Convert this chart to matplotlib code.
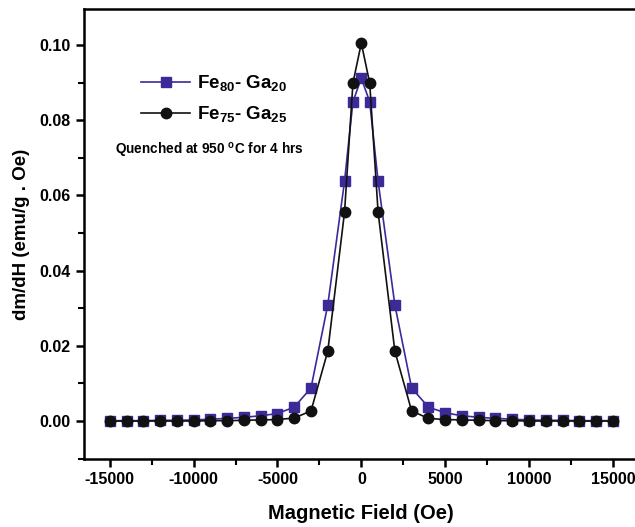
import matplotlib
matplotlib.use("Agg")
import matplotlib.pyplot as plt
from matplotlib.ticker import MultipleLocator, FuncFormatter

field = [-15000, -14000, -13000, -12000, -11000, -10000, -9000, -8000, -7000, -6000,
         -5000, -4000, -3000, -2000, -1000, -500, 0, 500, 1000, 2000, 3000, 4000,
         5000, 6000, 7000, 8000, 9000, 10000, 11000, 12000, 13000, 14000, 15000]
fe80 = [0.0001, 0.0001, 0.0001, 0.0002, 0.0002, 0.0003, 0.0005, 0.0007, 0.0010, 0.0014,
        0.0020, 0.0037, 0.0088, 0.0309, 0.0638, 0.0849, 0.0912, 0.0849, 0.0638, 0.0309,
        0.0088, 0.0037, 0.0022, 0.0014, 0.0010, 0.0007, 0.0005, 0.0003, 0.0002, 0.0002,
        0.0001, 0.0001, 0.0001]
fe75 = [0.0, 0.0, 0.0, 0.0, 0.0, 0.0, 0.0001, 0.0001, 0.0002, 0.0003,
        0.0004, 0.0008, 0.0027, 0.0186, 0.0556, 0.0899, 0.1005, 0.0899, 0.0556, 0.0186,
        0.0027, 0.0007, 0.0004, 0.0003, 0.0002, 0.0001, 0.0001, 0.0, 0.0, 0.0,
        0.0, 0.0, 0.0]
labels = ["Fe$_{80}$- Ga$_{20}$", "Fe$_{75}$- Ga$_{25}$"]
note = "Quenched at 950 $^{\\mathregular{o}}$C for 4 hrs"
xlabel = "Magnetic Field (Oe)"
ylabel = "dm/dH (emu/g . Oe)"

plt.rcParams['font.family'] = ['Liberation Sans', 'DejaVu Sans']
plt.rcParams['mathtext.fontset'] = 'custom'
plt.rcParams['mathtext.rm'] = 'Liberation Sans:bold'
plt.rcParams['mathtext.it'] = 'Liberation Sans:bold'
plt.rcParams['mathtext.bf'] = 'Liberation Sans:bold'
plt.rcParams['axes.unicode_minus'] = False

fig = plt.figure(figsize=(6.35, 5.27), dpi=100)
ax = fig.add_axes([0.132, 0.129, 0.874, 0.854])

ax.plot(field, fe80, color='#3b2a98', marker='s', markersize=6.5, lw=1.2, label=labels[0], zorder=2)
ax.plot(field, fe75, color='#111111', marker='o', markersize=7.5, lw=1.2, label=labels[1], zorder=3)

ax.set_xlim(-16550, 16550)
ax.set_ylim(-0.0101, 0.1096)
ax.xaxis.set_major_locator(MultipleLocator(5000))
ax.xaxis.set_minor_locator(MultipleLocator(2500))
ax.xaxis.set_major_formatter(FuncFormatter(lambda v, p: "%d" % v))
ax.yaxis.set_major_locator(MultipleLocator(0.02))
ax.yaxis.set_minor_locator(MultipleLocator(0.01))
ax.yaxis.set_major_formatter(FuncFormatter(lambda v, p: "%.2f" % v))

for s in ax.spines.values():
    s.set_linewidth(1.8)
ax.tick_params(which='major', direction='out', length=6, width=1.8, labelsize=11.5)
ax.tick_params(which='minor', direction='out', length=4, width=1.5)
for lab in ax.get_xticklabels() + ax.get_yticklabels():
    lab.set_fontweight('bold')

ax.set_xlabel(xlabel, fontsize=14.5, fontweight='bold', labelpad=12)
ax.set_ylabel(ylabel, fontsize=13.5, fontweight='bold', labelpad=7)

leg = ax.legend(loc='upper left', bbox_to_anchor=(0.073, 0.895), frameon=False,
                prop={'size': 13.5, 'weight': 'bold'}, handlelength=2.6,
                labelspacing=0.6, handletextpad=0.4)
ax.text(0.057, 0.676, note, transform=ax.transAxes, fontsize=9.8, fontweight='bold')

fig.savefig("out.png", dpi=100)
